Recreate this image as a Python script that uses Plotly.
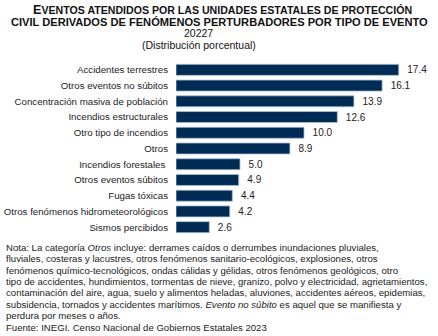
import plotly.graph_objects as go

categories = [
    "Accidentes terrestres",
    "Otros eventos no súbitos",
    "Concentración masiva de población",
    "Incendios estructurales",
    "Otro tipo de incendios",
    "Otros",
    "Incendios forestales ",
    "Otros eventos súbitos",
    "Fugas tóxicas",
    "Otros fenómenos hidrometeorológicos",
    "Sismos percibidos",
]
values = [17.4, 16.1, 13.9, 12.6, 10.0, 8.9, 5.0, 4.9, 4.4, 4.2, 2.6]

title_line1 = "EVENTOS ATENDIDOS POR LAS UNIDADES ESTATALES DE PROTECCIÓN"
title_line2 = "CIVIL DERIVADOS DE FENÓMENOS PERTURBADORES POR TIPO DE EVENTO"
subtitle1 = "20227"
subtitle2 = "(Distribución porcentual)"
note_lines = [
    "Nota: La categoría <i>Otros</i> incluye: derrames caídos o derrumbes inundaciones pluviales,",
    "fluviales, costeras y lacustres, otros fenómenos sanitario-ecológicos, explosiones, otros",
    "fenómenos químico-tecnológicos, ondas cálidas y gélidas, otros fenómenos geológicos, otro",
    "tipo de accidentes, hundimientos, tormentas de nieve, granizo, polvo y electricidad, agrietamientos,",
    "contaminación del aire, agua, suelo y alimentos heladas, aluviones, accidentes aéreos, epidemias,",
    "subsidencia, tornados y accidentes marítimos. <i>Evento no súbito</i> es aquel que se manifiesta y",
    "perdura por meses o años.",
]
source = "Fuente: INEGI. Censo Nacional de Gobiernos Estatales 2023"

FONT = "Liberation Sans, Arial, sans-serif"
L, T, PW, PH = 176, 62, 244, 173  # plot area in px


def px_to_paper(px, py):
    return (px - L) / PW, (T + PH - py) / PH


fig = go.Figure(go.Bar(
    x=values,
    y=categories,
    orientation="h",
    marker=dict(color="#002B54", line=dict(color="#A9C0D6", width=0.8)),
    text=[f"  {v:.1f}" for v in values],
    textposition="outside",
    textfont=dict(size=10, color="#222222", family=FONT),
    cliponaxis=False,
    hoverinfo="skip",
))

fig.update_layout(
    width=438, height=336,
    margin=dict(l=L, r=438 - L - PW, t=T, b=336 - T - PH, autoexpand=False),
    paper_bgcolor="white", plot_bgcolor="white",
    bargap=0.3,
    showlegend=False,
    font=dict(family=FONT, size=10, color="#222222"),
    xaxis=dict(visible=False, range=[0, 19.06], fixedrange=True, automargin=False),
    yaxis=dict(autorange="reversed", showline=False, showgrid=False, ticks="",
               automargin=False,
               ticklabelstandoff=7, tickfont=dict(size=9.7, color="#222222")),
)

t1 = (f"<b><span style='font-size:12.7px'>{title_line1[0]}</span>"
      f"<span style='font-size:10.6px'>{title_line1[1:]}</span></b>")
t2 = f"<b><span style='font-size:11.1px'>{title_line2}</span></b>"
titles = [
    (t1, 222, 10, 10.6),
    (t2, 219, 22, 11.1),
    (subtitle1, 198, 33, 10.5),
    (subtitle2, 199, 45, 10.5),
]
for text, px, py, fs in titles:
    x, y = px_to_paper(px, py)
    fig.add_annotation(
        text=text, x=x, y=y, xref="paper", yref="paper",
        xanchor="center", yanchor="middle", showarrow=False,
        font=dict(size=fs, color="#111111", family=FONT),
    )

ys = [247, 258.5, 270, 281, 292.5, 304, 315]
for ln, yy in zip(note_lines, ys):
    x, y = px_to_paper(4, yy)
    fig.add_annotation(text=ln, x=x, y=y, xref="paper", yref="paper",
                       xanchor="left", yanchor="middle", showarrow=False,
                       font=dict(size=9.6, color="#222222", family=FONT))
x, y = px_to_paper(4, 327)
fig.add_annotation(text=source, x=x, y=y, xref="paper", yref="paper",
                   xanchor="left", yanchor="middle", showarrow=False,
                   font=dict(size=9.6, color="#222222", family=FONT))

fig.write_html("out.html")
